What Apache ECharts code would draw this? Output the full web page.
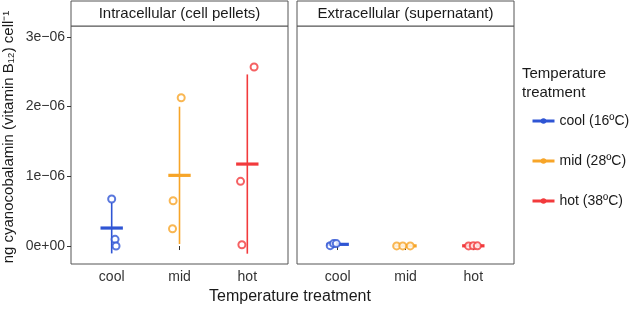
<!DOCTYPE html>
<html>
<head>
<meta charset="utf-8">
<script src="https://cdn.jsdelivr.net/npm/echarts@6/dist/echarts.min.js"></script>
<style>
  html, body { margin: 0; padding: 0; background: #fff; }
  #chart { width: 633px; height: 309px; }
</style>
</head>
<body>
<div id="chart"></div>
<script>
// categories and legend names
var categories = ['cool', 'mid', 'hot']
var treatNames = ['cool (16ºC)', 'mid (28ºC)', 'hot (38ºC)']
var colors = ['#2f55d4', '#f7a528', '#f23a3c']

// replicate values (ng per cell), one array per treatment
var intraCool = [0.674e-6, 0.096e-6, 0.0]
var intraMid = [2.128e-6, 0.650e-6, 0.248e-6]
var intraHot = [2.568e-6, 0.928e-6, 0.019e-6]
var extraCool = [0.005e-6, 0.035e-6, 0.035e-6]
var extraMid = [0.002e-6, 0.002e-6, 0.002e-6]
var extraHot = [0.002e-6, 0.004e-6, 0.003e-6]

// horizontal jitter of the replicate points (category units)
var intraJitter = [[0, 0.05, 0.064], [0.025, -0.094, -0.103], [0.10, -0.10, -0.08]]
var extraJitter = [[-0.11, -0.06, -0.02], [-0.13, -0.04, 0.07], [-0.07, 0.0, 0.06]]

// mean and sd (error bars)
var intraMean = [0.258e-6, 1.014e-6, 1.176e-6]
var intraSd = [0.364e-6, 0.985e-6, 1.286e-6]
var extraMean = [0.024e-6, 0.002e-6, 0.003e-6]
var extraSd = [0.015e-6, 0.001e-6, 0.001e-6]

// y ticks
var yTickValues = [0, 1e-6, 2e-6, 3e-6]
var yTickLabels = ['0e+00', '1e\u221206', '2e\u221206', '3e\u221206']
var yMin = -0.258e-6
var yMax = 3.157e-6

var axisTextColor = '#333'
var borderColor = '#555'

var chart = echarts.init(document.getElementById('chart'))

function yLabel(v) {
  for (var i = 0; i < yTickValues.length; i++) {
    if (Math.abs(v - yTickValues[i]) < 1e-9) return yTickLabels[i]
  }
  return ''
}

function xAxisFor(idx) {
  return {
    type: 'value', gridIndex: idx, min: 0.4, max: 3.6,
    axisLine: { show: false },
    splitLine: { show: false },
    axisTick: { show: true, length: 4, customValues: [1, 2, 3], lineStyle: { color: axisTextColor } },
    axisLabel: {
      customValues: [1, 2, 3], color: axisTextColor, fontSize: 14, margin: 6,
      fontFamily: 'Liberation Sans',
      formatter: function (v) { return categories[Math.round(v) - 1] }
    }
  }
}

function yAxisFor(idx, showLabels) {
  return {
    type: 'value', gridIndex: idx, min: yMin, max: yMax,
    axisLine: { show: false },
    splitLine: { show: false },
    axisTick: { show: showLabels, length: 4, customValues: yTickValues, lineStyle: { color: axisTextColor } },
    axisLabel: {
      show: showLabels, customValues: yTickValues, color: axisTextColor, fontSize: 14, margin: 6,
      fontFamily: 'Liberation Sans', formatter: yLabel
    }
  }
}

function pointSeries(idx, vals, jit, ci) {
  var data = vals.map(function (v, i) { return [ci + 1 + jit[i], v] })
  return {
    type: 'scatter', xAxisIndex: idx, yAxisIndex: idx,
    symbol: 'emptyCircle', symbolSize: 7,
    itemStyle: { color: colors[ci], borderColor: colors[ci], borderWidth: 1.2 },
    data: data, z: 3
  }
}

function summarySeries(idx, means, sds) {
  return {
    type: 'custom', xAxisIndex: idx, yAxisIndex: idx, z: 2,
    data: means.map(function (m, i) { return [i + 1, m, sds[i]] }),
    renderItem: function (params, api) {
      var x = api.value(0), m = api.value(1), s = api.value(2)
      var c = colors[params.dataIndex]
      var top = api.coord([x, m + s])
      var bot = api.coord([x, m - s])
      var mid = api.coord([x, m])
      var hw = api.size([0.165, 0])[0]
      return {
        type: 'group',
        children: [
          { type: 'line', shape: { x1: top[0], y1: top[1], x2: bot[0], y2: bot[1] },
            style: { stroke: c, lineWidth: 1.6 } },
          { type: 'line', shape: { x1: mid[0] - hw, y1: mid[1], x2: mid[0] + hw, y2: mid[1] },
            style: { stroke: c, lineWidth: 3.2 } }
        ]
      }
    }
  }
}

var series = []
var intra = [intraCool, intraMid, intraHot]
var extra = [extraCool, extraMid, extraHot]
series.push(summarySeries(0, intraMean, intraSd))
series.push(summarySeries(1, extraMean, extraSd))
for (var c = 0; c < 3; c++) {
  series.push(pointSeries(0, intra[c], intraJitter[c], c))
  series.push(pointSeries(1, extra[c], extraJitter[c], c))
}
// legend-only series
treatNames.forEach(function (n, i) {
  series.push({
    type: 'line', name: n, xAxisIndex: 0, yAxisIndex: 0, data: [],
    symbol: 'circle', symbolSize: 5,
    itemStyle: { color: colors[i], borderWidth: 0 },
    lineStyle: { color: colors[i], width: 3 }
  })
})

function strip(x, w, text) {
  return {
    type: 'group',
    children: [
      { type: 'rect', shape: { x: x, y: 1, width: w, height: 25 },
        style: { fill: '#fff', stroke: borderColor, lineWidth: 1 } },
      { type: 'text', x: x + w / 2, y: 14,
        style: { text: text, fill: '#1a1a1a', font: '15px "Liberation Sans"', align: 'center', verticalAlign: 'middle' } }
    ]
  }
}

var option = {
  animation: false,
  backgroundColor: '#fff',
  grid: [
    { left: 71, width: 217, top: 26, bottom: 45, show: true, borderColor: borderColor, borderWidth: 1, backgroundColor: '#fff' },
    { left: 297, width: 217, top: 26, bottom: 45, show: true, borderColor: borderColor, borderWidth: 1, backgroundColor: '#fff' }
  ],
  xAxis: [xAxisFor(0), xAxisFor(1)],
  yAxis: [yAxisFor(0, true), yAxisFor(1, false)],
  legend: {
    orient: 'vertical', left: 526, top: 109,
    itemWidth: 22, itemHeight: 7, itemGap: 26,
    data: treatNames,
    itemStyle: { borderWidth: 0 },
    lineStyle: { width: 3 },
    textStyle: { fontSize: 14, color: '#1a1a1a', fontFamily: 'Liberation Sans' }
  },
  graphic: [
    strip(71, 217, 'Intracellular (cell pellets)'),
    strip(297, 217, 'Extracellular (supernatant)'),
    { type: 'text', x: 290, y: 297,
      style: { text: 'Temperature treatment', fill: '#1a1a1a', font: '16px "Liberation Sans"', align: 'center', verticalAlign: 'middle' } },
    { type: 'text', x: 9, y: 137, rotation: Math.PI / 2,
      style: { text: 'ng cyanocobalamin (vitamin B\u2081\u2082) cell\u207B\u00B9', fill: '#1a1a1a', font: '15px "Liberation Sans"', align: 'center', verticalAlign: 'middle' } },
    { type: 'text', x: 522, y: 64,
      style: { text: 'Temperature\ntreatment', fill: '#1a1a1a', font: '15px "Liberation Sans"', lineHeight: 19, align: 'left', verticalAlign: 'top' } }
  ],
  series: series
}
chart.setOption(option)
</script>
</body>
</html>
